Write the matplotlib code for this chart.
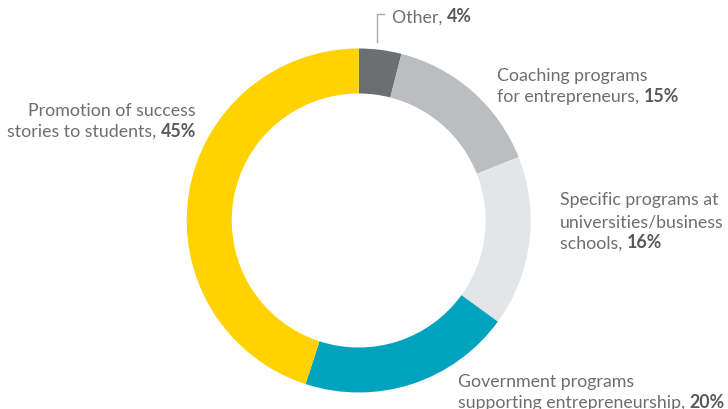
import matplotlib.pyplot as plt

categories = ["Other", "Coaching programs\nfor entrepreneurs",
              "Specific programs at\nuniversities/business\nschools",
              "Government programs\nsupporting entrepreneurship",
              "Promotion of success\nstories to students"]
shares = [4, 15, 16, 20, 45]
colors = ["#6d6e71", "#bcbdc0", "#e4e5e7", "#00a3be", "#ffd200"]

# label anchor (x, y of first line, in pixels from top) and alignment
label_pos = [(392, 17, "left"), (497, 75, "left"), (560, 200, "left"),
             (458, 381, "left"), (196, 110, "right")]

plt.rcParams['font.family'] = ['Lato', 'DejaVu Sans']
W, H = 728, 409
fig = plt.figure(figsize=(W / 100, H / 100), dpi=100)
ax = fig.add_axes([0, 0, 1, 1])

cx, cy, R = 358.7, H - 220.5, 172
ax.pie(shares, colors=colors, startangle=90, counterclock=False,
       center=(cx, cy), radius=R, frame=True,
       wedgeprops=dict(width=45, linewidth=0))
ax.set_xlim(0, W)
ax.set_ylim(0, H)
ax.axis('off')

# leader line for "Other"
ax.plot([377, 377, 384], [H - 42, H - 14, H - 14], color="#a7a9ac", lw=1)

txt_col = "#6d6e71"
bold_col = "#58595b"
fs = 12.8
lh = 21.5
fig.canvas.draw()
r = fig.canvas.get_renderer()
for cat, val, (x, y, ha) in zip(categories, shares, label_pos):
    lines = cat.split("\n")
    for i, line in enumerate(lines):
        yy = H - (y + i * lh) - 5.5
        last = i == len(lines) - 1
        if not last:
            ax.text(x, yy, line, ha=ha, va='baseline', fontsize=fs, color=txt_col)
            continue
        plain = line + ", "
        bold = f"{val}%"
        if ha == "left":
            t = ax.text(x, yy, plain, ha='left', va='baseline', fontsize=fs, color=txt_col)
            bb = t.get_window_extent(r)
            ax.text(bb.x1, yy, bold, ha='left', va='baseline', fontsize=fs,
                    color=bold_col, fontweight='bold')
        else:
            t = ax.text(x, yy, bold, ha='right', va='baseline', fontsize=fs,
                        color=bold_col, fontweight='bold')
            bb = t.get_window_extent(r)
            ax.text(bb.x0, yy, plain, ha='right', va='baseline', fontsize=fs, color=txt_col)

fig.savefig("out.png", dpi=100)
